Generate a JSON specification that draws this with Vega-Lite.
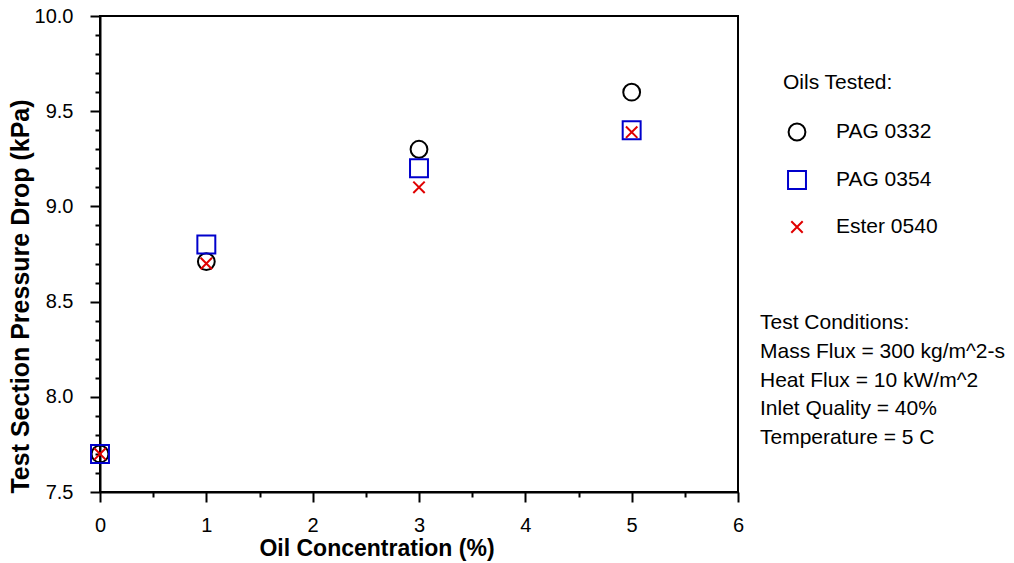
{
  "$schema": "https://vega.github.io/schema/vega-lite/v6.json",
  "width": 638,
  "height": 476,
  "autosize": {"type": "none"},
  "padding": {"left": 100, "top": 16, "right": 276, "bottom": 71},
  "background": "white",
  "config": {
    "font": "Liberation Sans",
    "view": {"stroke": "black", "strokeWidth": 2},
    "axis": {"grid": false, "domainColor": "black", "domainWidth": 2, "tickColor": "black", "tickWidth": 2, "labelColor": "black", "titleColor": "black", "labelFont": "Liberation Sans", "titleFont": "Liberation Sans", "labelFontSize": 20, "titleFontSize": 23, "titleFontWeight": "bold"},
    "legend": {"labelFont": "Liberation Sans", "titleFont": "Liberation Sans", "labelFontSize": 21, "titleFontSize": 21, "titleFontWeight": "normal", "labelColor": "black", "titleColor": "black", "padding": 0, "labelLimit": 400}
  },
  "datasets": {
    "oils": [
      {"conc": 0, "dp": 7.7, "oil": "PAG 0332"},
      {"conc": 1, "dp": 8.71, "oil": "PAG 0332"},
      {"conc": 3, "dp": 9.3, "oil": "PAG 0332"},
      {"conc": 5, "dp": 9.6, "oil": "PAG 0332"},
      {"conc": 0, "dp": 7.7, "oil": "PAG 0354"},
      {"conc": 1, "dp": 8.8, "oil": "PAG 0354"},
      {"conc": 3, "dp": 9.2, "oil": "PAG 0354"},
      {"conc": 5, "dp": 9.4, "oil": "PAG 0354"},
      {"conc": 0, "dp": 7.7, "oil": "Ester 0540"},
      {"conc": 1, "dp": 8.7, "oil": "Ester 0540"},
      {"conc": 3, "dp": 9.1, "oil": "Ester 0540"},
      {"conc": 5, "dp": 9.39, "oil": "Ester 0540"}
    ],
    "conditions": [
      {"cond": "Mass Flux = 300 kg/m^2-s"},
      {"cond": "Heat Flux = 10 kW/m^2"},
      {"cond": "Inlet Quality = 40%"},
      {"cond": "Temperature = 5 C"}
    ]
  },
  "layer": [
    {
      "data": {"name": "oils"},
      "mark": {"type": "point", "filled": false, "strokeWidth": 2, "opacity": 1},
      "encoding": {
        "x": {
          "field": "conc", "type": "quantitative",
          "scale": {"domain": [0, 6], "nice": false, "zero": false},
          "axis": {
            "title": "Oil Concentration (%)",
            "titleX": 276.5,
            "values": [0, 0.5, 1, 1.5, 2, 2.5, 3, 3.5, 4, 4.5, 5, 5.5, 6],
            "labelExpr": "abs(datum.value - round(datum.value)) < 0.001 ? format(datum.value, 'd') : ''",
            "tickSize": {"condition": {"test": "abs(datum.value - round(datum.value)) < 0.001", "value": 10}, "value": 5},
            "labelPadding": 13,
            "titlePadding": 2,
            "labelFlush": false
          }
        },
        "y": {
          "field": "dp", "type": "quantitative",
          "scale": {"domain": [7.5, 10], "nice": false, "zero": false},
          "axis": {
            "title": "Test Section Pressure Drop (kPa)",
            "titleFontSize": 25,
            "titleY": 280,
            "values": [7.5, 7.6, 7.7, 7.8, 7.9, 8.0, 8.1, 8.2, 8.3, 8.4, 8.5, 8.6, 8.7, 8.8, 8.9, 9.0, 9.1, 9.2, 9.3, 9.4, 9.5, 9.6, 9.7, 9.8, 9.9, 10.0],
            "labelExpr": "abs(datum.value*2 - round(datum.value*2)) < 0.001 ? format(datum.value, '.1f') : ''",
            "tickSize": {"condition": {"test": "abs(datum.value*2 - round(datum.value*2)) < 0.001", "value": 10}, "value": 5},
            "labelPadding": 17,
            "titlePadding": 1,
            "labelFlush": false
          }
        },
        "shape": {
          "field": "oil", "type": "nominal",
          "scale": {"domain": ["PAG 0332", "PAG 0354", "Ester 0540"], "range": ["circle", "square", "M-0.6,-0.6L0.6,0.6M0.6,-0.6L-0.6,0.6"]},
          "legend": {"title": "Oils Tested:", "orient": "none", "legendX": 683, "legendY": 56, "titlePadding": 28.5, "rowPadding": 22, "symbolOffset": 3.5, "labelOffset": 28.5, "symbolStrokeWidth": 2}
        },
        "color": {
          "field": "oil", "type": "nominal",
          "scale": {"domain": ["PAG 0332", "PAG 0354", "Ester 0540"], "range": ["black", "#0000cc", "#e00000"]}
        },
        "size": {
          "field": "oil", "type": "nominal",
          "scale": {"domain": ["PAG 0332", "PAG 0354", "Ester 0540"], "range": [283, 361, 144]}
        }
      }
    },
    {
      "data": {"name": "conditions"},
      "mark": {"type": "point", "opacity": 0, "filled": true},
      "encoding": {
        "fill": {
          "field": "cond", "type": "nominal",
          "scale": {"domain": ["Mass Flux = 300 kg/m^2-s", "Heat Flux = 10 kW/m^2", "Inlet Quality = 40%", "Temperature = 5 C"], "range": ["white", "white", "white", "white"]},
          "legend": {"title": "Test Conditions:", "orient": "none", "legendX": 660, "legendY": 295.5, "symbolSize": 0, "symbolOpacity": 0, "symbolStrokeWidth": 0, "labelOffset": -21, "titlePadding": 9, "rowPadding": 6.7}
        }
      }
    }
  ]
}
